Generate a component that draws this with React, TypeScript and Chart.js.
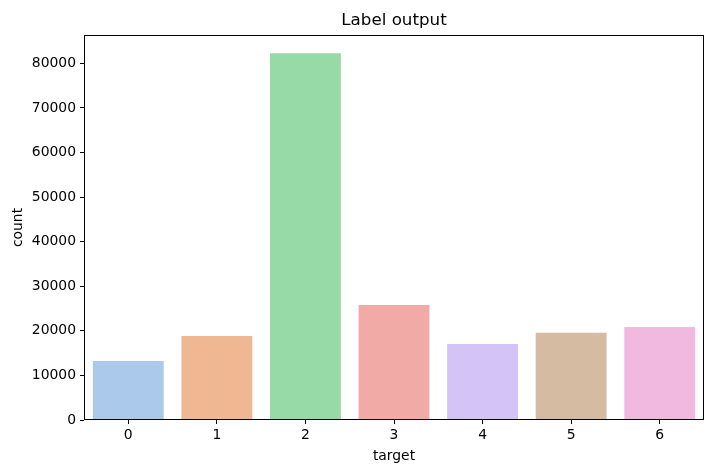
import React, { useEffect, useRef } from "react";
import { Chart, registerables } from "chart.js";

Chart.register(...registerables);

const categories = ["0", "1", "2", "3", "4", "5", "6"];
const counts = [13230, 18830, 82250, 25780, 17040, 19550, 20850];
const barColors = ["#abc9ea", "#efb792", "#98daa7", "#f2aaa7", "#d3c3f6", "#d6bba3", "#f1b9e0"];
const yTicks = [0, 10000, 20000, 30000, 40000, 50000, 60000, 70000, 80000];
const yMax = 86360;
const titleText = "Label output";
const xLabel = "target";
const yLabel = "count";

const FONT = "'DejaVu Sans', sans-serif";

const decorPlugin = {
  id: "decor",
  afterDraw(chart: any) {
    const { ctx, chartArea } = chart;
    ctx.save();
    ctx.strokeStyle = "#000";
    ctx.lineWidth = 1;
    ctx.strokeRect(
      Math.round(chartArea.left) + 0.5,
      Math.round(chartArea.top) + 0.5,
      Math.round(chartArea.right - chartArea.left) - 1,
      Math.round(chartArea.bottom - chartArea.top) - 1
    );
    const cx = (chartArea.left + chartArea.right) / 2;
    ctx.fillStyle = "#000";
    ctx.textAlign = "center";
    ctx.textBaseline = "middle";
    ctx.font = `16.7px ${FONT}`;
    ctx.fillText(titleText, cx, 21);
    ctx.font = `13.9px ${FONT}`;
    ctx.fillText(xLabel, cx, 456);
    ctx.translate(18, (chartArea.top + chartArea.bottom) / 2);
    ctx.rotate(-Math.PI / 2);
    ctx.fillText(yLabel, 0, 0);
    ctx.restore();
  },
};

export default function App() {
  const ref = useRef<HTMLCanvasElement>(null);
  useEffect(() => {
    if (!ref.current) return;
    const chart = new Chart(ref.current, {
      type: "bar",
      data: {
        labels: categories,
        datasets: [
          {
            data: counts,
            backgroundColor: barColors,
            borderWidth: 0,
            categoryPercentage: 0.8,
            barPercentage: 1,
          },
        ],
      },
      options: {
        animation: false,
        responsive: false,
        maintainAspectRatio: false,
        layout: { padding: { left: 0, top: 35, right: 19, bottom: 0 } },
        plugins: { legend: { display: false }, title: { display: false }, tooltip: { enabled: false } },
        scales: {
          x: {
            offset: true,
            grid: { display: true, drawOnChartArea: false, drawTicks: true, tickLength: 4, color: "#000", offset: false },
            border: { display: false },
            ticks: { color: "#000", font: { family: FONT, size: 13.9 }, padding: 3, maxRotation: 0 },
            afterFit: (s: any) => {
              s.height = 48;
            },
          },
          y: {
            min: 0,
            max: yMax,
            grid: { display: true, drawOnChartArea: false, drawTicks: true, tickLength: 4, color: "#000" },
            border: { display: false },
            ticks: {
              color: "#000",
              font: { family: FONT, size: 13.9 },
              padding: 4,
              autoSkip: false,
              callback: (v: any) => String(v),
            },
            afterBuildTicks: (s: any) => {
              s.ticks = yTicks.map((v) => ({ value: v }));
            },
            afterFit: (s: any) => {
              s.width = 84;
            },
          },
        },
      },
      plugins: [decorPlugin],
    });
    return () => chart.destroy();
  }, []);
  return (
    <div style={{ position: "fixed", left: 0, top: 0, width: 723, height: 468, background: "#fff" }}>
      <canvas ref={ref} width={723} height={468} style={{ width: 723, height: 468 }} />
    </div>
  );
}
